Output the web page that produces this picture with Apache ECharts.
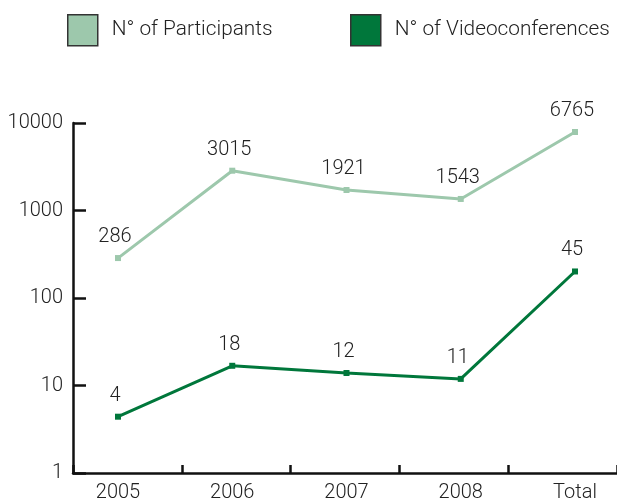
<!DOCTYPE html>
<html>
<head>
<meta charset="utf-8">
<script src="https://cdn.jsdelivr.net/npm/echarts@6/dist/echarts.min.js"></script>
<style>
  html, body { margin: 0; padding: 0; background: #fff; }
  #chart { width: 617px; height: 504px; }
</style>
</head>
<body>
<div id="chart"></div>
<script>
// categories and values
const categories = ['2005', '2006', '2007', '2008', 'Total']
const participants = [286, 2850, 1715, 1355, 7890]
const videoconferences = [4.4, 16.8, 13.9, 11.9, 201]
// printed numbers above the points
const participantLabels = ['286', '3015', '1921', '1543', '6765']
const videoLabels = ['4', '18', '12', '11', '45']
const yTicks = [1, 10, 100, 1000, 10000]

const lightGreen = '#9dc8ac'
const darkGreen = '#00773b'
const font = 'Roboto'

const chart = echarts.init(document.getElementById('chart'))

const labelStyle = (texts) => ({
  show: true,
  position: 'top',
  distance: 8,
  offset: [-3, 0],
  color: '#222',
  fontSize: 20,
  fontWeight: 300,
  fontFamily: font,
  formatter: p => texts[p.dataIndex]
})

const legendStyle = {
  top: 14,
  padding: 0,
  icon: 'rect',
  itemWidth: 30,
  itemHeight: 31,
  itemGap: 0,
  textStyle: { color: '#222', fontSize: 20.8, fontWeight: 300, fontFamily: font, padding: [0, 0, 0, 9] },
  itemStyle: { borderColor: '#333', borderWidth: 1.5 }
}

const option = {
  animation: false,
  textStyle: { fontFamily: font },
  legend: [
    Object.assign({ data: ['N° of Participants'], left: 67 }, legendStyle),
    Object.assign({ data: ['N° of Videoconferences'], left: 350 }, legendStyle)
  ],
  grid: [
    // frame: axis lines and ticks
    { left: 73, width: 547, top: 123, bottom: 31 },
    // plotting area: points sit on the year labels
    { left: 118, right: 42, top: 123, bottom: 31 }
  ],
  xAxis: [
    {
      gridIndex: 0,
      type: 'category',
      data: categories,
      boundaryGap: true,
      axisLine: { lineStyle: { color: '#111', width: 2.5 } },
      axisTick: { show: true, inside: true, length: 8, lineStyle: { color: '#111', width: 2.5 } },
      axisLabel: { show: false }
    },
    {
      gridIndex: 1,
      type: 'category',
      data: categories,
      boundaryGap: false,
      axisLine: { show: false },
      axisTick: { show: false },
      axisLabel: { color: '#222', fontSize: 20, fontWeight: 300, fontFamily: font, margin: 10 }
    }
  ],
  yAxis: [
    {
      gridIndex: 0,
      type: 'log',
      logBase: 10,
      min: yTicks[0],
      max: yTicks[yTicks.length - 1],
      axisLine: { show: true, lineStyle: { color: '#111', width: 2.5 } },
      axisTick: { show: true, inside: true, length: 13, lineStyle: { color: '#111', width: 2.5 } },
      axisLabel: {
        color: '#222', fontSize: 20, fontWeight: 300, fontFamily: font, margin: 10,
        formatter: v => String(Math.round(v))
      },
      splitLine: { show: false }
    },
    {
      gridIndex: 1,
      type: 'log',
      logBase: 10,
      min: yTicks[0],
      max: yTicks[yTicks.length - 1],
      show: false,
      splitLine: { show: false }
    }
  ],
  series: [
    {
      name: 'N° of Participants',
      type: 'line',
      xAxisIndex: 1,
      yAxisIndex: 1,
      data: participants,
      color: lightGreen,
      symbol: 'rect',
      symbolSize: 6,
      lineStyle: { color: lightGreen, width: 3 },
      itemStyle: { color: lightGreen },
      label: labelStyle(participantLabels)
    },
    {
      name: 'N° of Videoconferences',
      type: 'line',
      xAxisIndex: 1,
      yAxisIndex: 1,
      data: videoconferences,
      color: darkGreen,
      symbol: 'rect',
      symbolSize: 6,
      lineStyle: { color: darkGreen, width: 3 },
      itemStyle: { color: darkGreen },
      label: labelStyle(videoLabels)
    }
  ]
}

chart.setOption(option)
</script>
</body>
</html>
